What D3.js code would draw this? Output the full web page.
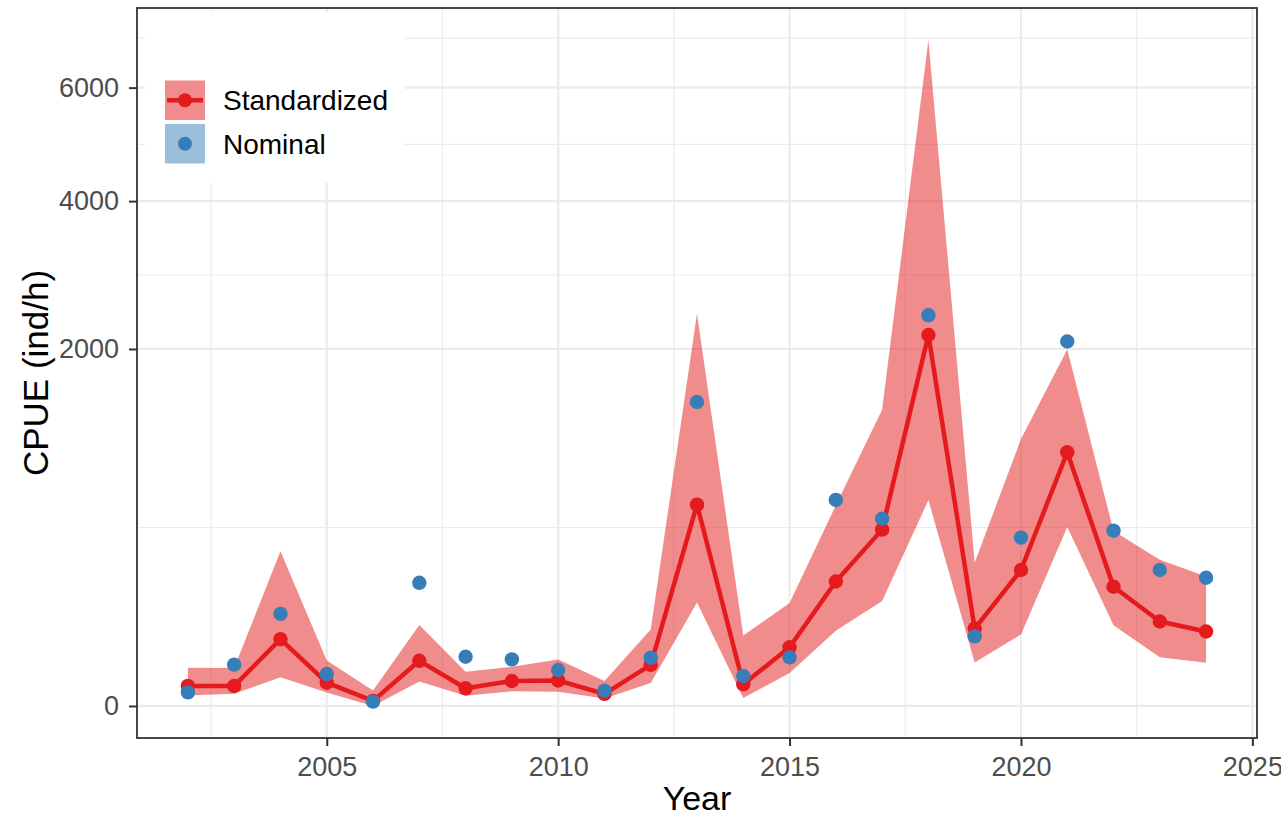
<!-- CPUE chart: standardized index with ribbon + nominal points, sqrt y axis -->
<html>
<head>
    <title>CPUE</title>
    <script type="text/javascript" src="https://cdnjs.cloudflare.com/ajax/libs/d3/7.8.5/d3.min.js"></script>
    <style>
        body { margin: 0; background: #fff; }
        text { font-family: "Liberation Sans", Arial, sans-serif; }
    </style>
</head>
<body>
<div id="chart"></div>
<script type="text/javascript">
    // values (ind/h)
    var years = [2002, 2003, 2004, 2005, 2006, 2007, 2008, 2009, 2010, 2011, 2012, 2013,
                 2014, 2015, 2016, 2017, 2018, 2019, 2020, 2021, 2022, 2023, 2024];
    var standardized = [6.3, 6.3, 70, 8.5, 0.4, 32, 4.9, 9.8, 10.2, 2.3, 26.5, 636,
                        7.4, 54, 243, 488, 2160, 94, 290, 1010, 223, 112, 87];
    var upper = [23, 22.5, 376, 32.5, 3.8, 103, 18.5, 24, 34, 9.8, 92, 2415,
                 78, 166, 632, 1378, 6962, 322, 1118, 1995, 480, 336, 263];
    var lower = [1.7, 2.3, 13, 2.9, 0, 9.4, 1.6, 3.4, 3.2, 0.9, 8.3, 168,
                 1.0, 17, 89, 173, 665, 29.5, 80, 502, 102, 37.4, 29.4];
    var nominal = [2.9, 26.8, 133, 16, 0.3, 238, 38, 34, 20.3, 3.7, 36.6, 1450,
                   14.1, 37, 666, 550, 2395, 76, 445, 2085, 482, 290, 258];

    var xMajor = [2005, 2010, 2015, 2020, 2025];
    var xMinor = [2002.5, 2007.5, 2012.5, 2017.5, 2022.5];
    var yMajor = [0, 2000, 4000, 6000];
    var yMinor = [500, 2914, 4950, 7000];

    var legendLabels = ["Standardized", "Nominal"];

    var red = "#E41A1C", blue = "#377EB8";

    var W = 1281, H = 816;
    var panel = {left: 137, right: 1257, top: 8, bottom: 738};

    var svg = d3.select("#chart").append("svg")
        .attr("width", W).attr("height", H);

    var x = d3.scaleLinear().domain([2000.9, 2025.1]).range([panel.left, panel.right]);
    // sqrt transformed axis, a little room below zero like ggplot expansion
    var y = d3.scaleSqrt().domain([-16.1, 7645]).range([panel.bottom, panel.top]);

    var rows = years.map(function(yr, i){
        return {year: yr, est: standardized[i], lo: lower[i], hi: upper[i], nom: nominal[i]};
    });

    // grid
    var grid = svg.append("g");
    grid.selectAll(".ymin").data(yMinor).enter().append("line")
        .attr("x1", panel.left).attr("x2", panel.right)
        .attr("y1", function(d){ return y(d); }).attr("y2", function(d){ return y(d); })
        .attr("stroke", "#EBEBEB").attr("stroke-width", 1.1);
    grid.selectAll(".xmin").data(xMinor).enter().append("line")
        .attr("y1", panel.top).attr("y2", panel.bottom)
        .attr("x1", function(d){ return x(d); }).attr("x2", function(d){ return x(d); })
        .attr("stroke", "#EBEBEB").attr("stroke-width", 1.1);
    grid.selectAll(".ymaj").data(yMajor).enter().append("line")
        .attr("x1", panel.left).attr("x2", panel.right)
        .attr("y1", function(d){ return y(d); }).attr("y2", function(d){ return y(d); })
        .attr("stroke", "#EBEBEB").attr("stroke-width", 2.2);
    grid.selectAll(".xmaj").data(xMajor).enter().append("line")
        .attr("y1", panel.top).attr("y2", panel.bottom)
        .attr("x1", function(d){ return x(d); }).attr("x2", function(d){ return x(d); })
        .attr("stroke", "#EBEBEB").attr("stroke-width", 2.2);

    // ribbon
    var area = d3.area()
        .x(function(d){ return x(d.year); })
        .y0(function(d){ return y(d.lo); })
        .y1(function(d){ return y(d.hi); });
    svg.append("path").datum(rows)
        .attr("d", area)
        .attr("fill", red).attr("fill-opacity", 0.5);

    // standardized line + points
    var line = d3.line()
        .x(function(d){ return x(d.year); })
        .y(function(d){ return y(d.est); });
    svg.append("path").datum(rows)
        .attr("d", line)
        .attr("fill", "none").attr("stroke", red).attr("stroke-width", 4.5)
        .attr("stroke-linejoin", "round");
    svg.selectAll(".est").data(rows).enter().append("circle")
        .attr("cx", function(d){ return x(d.year); })
        .attr("cy", function(d){ return y(d.est); })
        .attr("r", 7.2).attr("fill", red);

    // nominal points
    svg.selectAll(".nom").data(rows).enter().append("circle")
        .attr("cx", function(d){ return x(d.year); })
        .attr("cy", function(d){ return y(d.nom); })
        .attr("r", 7.2).attr("fill", blue);

    // panel border
    svg.append("rect")
        .attr("x", panel.left).attr("y", panel.top)
        .attr("width", panel.right - panel.left).attr("height", panel.bottom - panel.top)
        .attr("fill", "none").attr("stroke", "#333333").attr("stroke-width", 1.8);

    // axes
    var yAxis = d3.axisLeft(y).tickValues(yMajor).tickSize(8).tickPadding(10).tickFormat(d3.format("d"));
    var gy = svg.append("g").attr("transform", "translate(" + panel.left + ",0)").call(yAxis);
    var xAxis = d3.axisBottom(x).tickValues(xMajor).tickSize(8).tickPadding(11).tickFormat(d3.format("d"));
    var gx = svg.append("g").attr("transform", "translate(0," + panel.bottom + ")").call(xAxis);
    [gx, gy].forEach(function(g){
        g.select(".domain").remove();
        g.selectAll(".tick line").attr("stroke", "#333333").attr("stroke-width", 2);
        g.selectAll(".tick text").attr("fill", "#4D4D4D")
            .style("font-size", "27px").style("font-family", "'Liberation Sans', Arial, sans-serif");
    });

    svg.append("text")
        .attr("x", (panel.left + panel.right) / 2).attr("y", 810)
        .attr("text-anchor", "middle")
        .style("font-size", "34px").text("Year");
    svg.append("text")
        .attr("transform", "translate(48," + ((panel.top + panel.bottom) / 2) + ") rotate(-90)")
        .attr("text-anchor", "middle")
        .style("font-size", "35px").text("CPUE (ind/h)");

    // legend inside the panel (white box covers the grid)
    var leg = svg.append("g");
    leg.append("rect").attr("x", 145).attr("y", 12).attr("width", 260).attr("height", 171)
        .attr("fill", "#fff");
    var keyX = 165, keyW = 40, keyY = [80.5, 124];
    leg.append("rect").attr("x", keyX).attr("y", keyY[0]).attr("width", keyW).attr("height", 39.5)
        .attr("fill", red).attr("fill-opacity", 0.5);
    leg.append("line").attr("x1", keyX + 2).attr("x2", keyX + keyW - 2)
        .attr("y1", keyY[0] + 19.75).attr("y2", keyY[0] + 19.75)
        .attr("stroke", red).attr("stroke-width", 4.5);
    leg.append("circle").attr("cx", keyX + keyW / 2).attr("cy", keyY[0] + 19.75).attr("r", 7)
        .attr("fill", red);
    leg.append("rect").attr("x", keyX).attr("y", keyY[1]).attr("width", keyW).attr("height", 39.5)
        .attr("fill", blue).attr("fill-opacity", 0.5);
    leg.append("circle").attr("cx", keyX + keyW / 2).attr("cy", keyY[1] + 19.75).attr("r", 7)
        .attr("fill", blue);
    leg.selectAll(".lab").data(legendLabels).enter().append("text")
        .attr("x", 223)
        .attr("y", function(d, i){ return keyY[i] + 19.75; })
        .attr("dy", "0.36em")
        .style("font-size", "28px")
        .text(function(d){ return d; });
</script>
</body>
</html>
